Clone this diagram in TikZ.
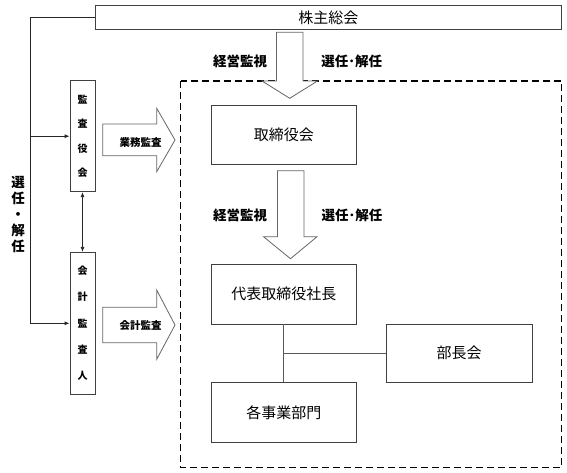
\documentclass[tikz,border=0pt]{standalone}
\usepackage{fontspec}
\setmainfont{Noto Sans CJK JP}
\usetikzlibrary{arrows.meta}
\begin{document}
\begin{tikzpicture}[x=1pt,y=-1pt,
  box/.style={draw=black!75, line width=0.8pt, rectangle, inner sep=0pt, fill=white},
  bigtxt/.style={font=\fontsize{15}{18}\selectfont},
  lbl/.style={font=\fontsize{13.5}{16}\selectfont\bfseries, inner sep=0pt},
  smalllbl/.style={font=\fontsize{10.5}{12}\selectfont\bfseries, inner sep=0pt},
  vtxt/.style={align=center, font=\fontsize{10}{24.3}\selectfont\bfseries},
  blockarrow/.style={draw=black!60, line width=0.8pt, fill=white, line join=miter},
  link/.style={draw=black!85, line width=0.8pt},
  linkg/.style={draw=black!65, line width=0.8pt},
  arr/.style={-{Latex[length=5pt,width=4pt]}},
  arrboth/.style={{Latex[length=5pt,width=4pt]}-{Latex[length=5pt,width=4pt]}}
]
\useasboundingbox (0,0) rectangle (567,472);
% dashed frame
\draw[line width=1.5pt, dash pattern=on 7pt off 4pt] (180.7,81) rectangle (561.7,467.5);

% boxes
\node[box, minimum width=466.5pt, minimum height=23.6pt, bigtxt] (kabu) at (328.3,17.5) {株主総会};
\node[box, minimum width=145.7pt, minimum height=59.3pt, bigtxt] (tori) at (283.85,134.65) {取締役会};
\node[box, minimum width=145.7pt, minimum height=59.7pt, bigtxt] (daihyo) at (283.85,294.15) {代表取締役社長};
\node[box, minimum width=145.7pt, minimum height=60pt, bigtxt] (kaku) at (283.85,412.3) {各事業部門};
\node[box, minimum width=146.3pt, minimum height=58pt, bigtxt] (bucho) at (459.15,353.3) {部長会};
\node[box, minimum width=25pt, minimum height=111pt, vtxt] (kansa) at (82.5,136.2) {監\\査\\役\\会};
\node[box, minimum width=25pt, minimum height=142pt, align=center, font=\fontsize{10}{26.4}\selectfont\bfseries] (kaikei) at (82.5,323.3) {会\\計\\監\\査\\人};

% left selection line
\coordinate (c1) at (30,17.5);
\coordinate (c2) at (30,323.3);
\draw[link, arr] (kabu.west) -- (c1) -- (c2) -- (kaikei.west);
\draw[link, arr] (c1 |- kansa.west) -- (kansa.west);
\draw[link, arrboth] (kansa.south) -- (kaikei.north);
\node[align=center, inner sep=0pt, font=\fontsize{13.5}{16}\selectfont\bfseries] (sennin) at (18,215) {選\\任\\・\\解\\任};

% connectors inside
\draw[linkg] (daihyo.south) -- (kaku.north);
\draw[linkg] (daihyo.south |- bucho.west) -- (bucho.west);

% block arrows
\draw[blockarrow] (276.5,32.3) -- (303,32.3) -- (303,81) -- (317.5,81) -- (289.7,98.3) -- (262,81) -- (276.5,81) -- cycle;
\draw[blockarrow] (277.5,170.7) -- (304,170.7) -- (304,236.7) -- (317,236.7) -- (290.5,258.7) -- (263.5,236.7) -- (277.5,236.7) -- cycle;
\draw[blockarrow] (102.7,124) -- (156.7,124) -- (156.7,108.3) -- (175,140) -- (156.7,171.7) -- (156.7,155.7) -- (102.7,155.7) -- cycle;
\draw[blockarrow] (102.7,307.3) -- (156.7,307.3) -- (156.7,290) -- (175,325) -- (156.7,359.3) -- (156.7,342.7) -- (102.7,342.7) -- cycle;

% labels
\node[lbl] (l1) at (240,61.7) {経営監視};
\node[lbl] (l2) at (351.7,61.7) {選任･解任};
\node[lbl] (l3) at (240,215) {経営監視};
\node[lbl] (l4) at (352,215) {選任･解任};
\node[smalllbl] (l5) at (140.7,142.7) {業務監査};
\node[smalllbl] (l6) at (140.7,326) {会計監査};
\end{tikzpicture}
\end{document}
